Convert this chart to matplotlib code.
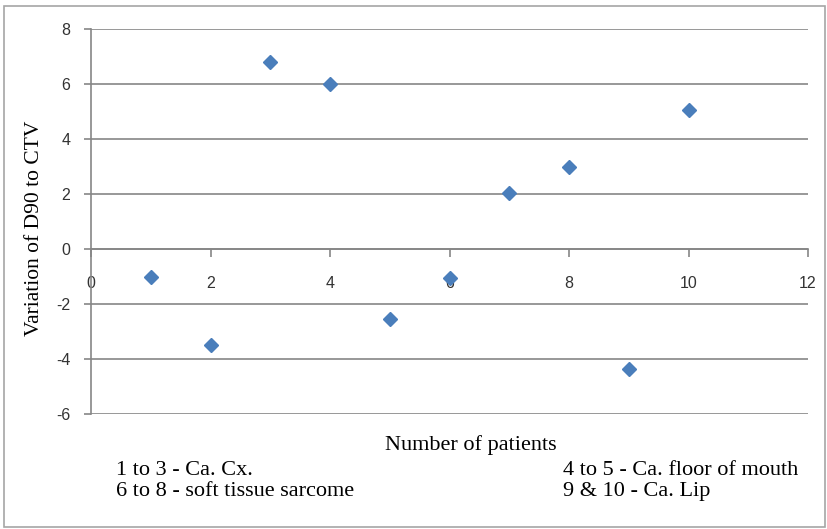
import matplotlib.pyplot as plt
from matplotlib.patches import Rectangle

plt.rcParams['axes.unicode_minus'] = False

# dados
pacientes = [1, 2, 3, 4, 5, 6, 7, 8, 9, 10]
variacao = [-1.0, -3.5, 6.8, 6.0, -2.55, -1.05, 2.05, 3.0, -4.35, 5.05]
x_ticks = [0, 2, 4, 6, 8, 10, 12]
y_ticks = [-6, -4, -2, 0, 2, 4, 6, 8]
notas = ["1 to 3 - Ca. Cx.", "6 to 8 - soft tissue sarcome",
         "4 to 5 - Ca. floor of mouth", "9 & 10 - Ca. Lip"]

cinza = '#868686'
azul = '#4a7ebb'

fig = plt.figure(figsize=(8.27, 5.29), dpi=100)
ax = fig.add_axes([91/827, 1 - 414/529, (808 - 91)/827, (414 - 29)/529])

ax.plot(pacientes, variacao, linestyle='none', marker='D', markersize=6.8,
        color=azul, zorder=3, clip_on=False)

ax.set_xlim(0, 12)
ax.set_ylim(-6, 8)
ax.set_xticks(x_ticks)
ax.set_yticks(y_ticks)

# eixo x cruza em y = 0, como no Excel
ax.spines['bottom'].set_position(('data', 0))
ax.spines['top'].set_visible(False)
ax.spines['right'].set_visible(False)
for s in ['bottom', 'left']:
    ax.spines[s].set_color(cinza)
    ax.spines[s].set_linewidth(1.2)

ax.yaxis.grid(True, color=cinza, linewidth=1.2)
ax.set_axisbelow(True)

ax.tick_params(axis='x', direction='out', length=5.5, width=1.2, color=cinza,
               pad=14, labelsize=11.5, labelcolor='#333333')
ax.tick_params(axis='y', direction='out', length=5, width=1.2, color=cinza,
               pad=10, labelsize=11.5, labelcolor='#333333')
for lbl in ax.get_xticklabels() + ax.get_yticklabels():
    lbl.set_family('Liberation Sans')

fig.text(35/827, 1 - 228/529, 'Variation of D90 to CTV', rotation=90,
         ha='center', va='center', family='Liberation Serif', fontsize=15.5)

fig.text(471/827, 1 - 450/529, 'Number of patients', ha='center',
         va='baseline', family='Liberation Serif', fontsize=16)
fig.text(116/827, 1 - 475/529, notas[0], ha='left', va='baseline',
         family='Liberation Serif', fontsize=16)
fig.text(116/827, 1 - 496/529, notas[1], ha='left', va='baseline',
         family='Liberation Serif', fontsize=16)
fig.text(563/827, 1 - 475/529, notas[2], ha='left', va='baseline',
         family='Liberation Serif', fontsize=16)
fig.text(563/827, 1 - 496/529, notas[3], ha='left', va='baseline',
         family='Liberation Serif', fontsize=16)

# moldura em volta da figura
fig.patches.append(Rectangle((4/827, 2/529), 821/827, 521/529,
                             transform=fig.transFigure, fill=False,
                             edgecolor='#a6a6a6', linewidth=1.2))

fig.savefig('out.png', dpi=100)
